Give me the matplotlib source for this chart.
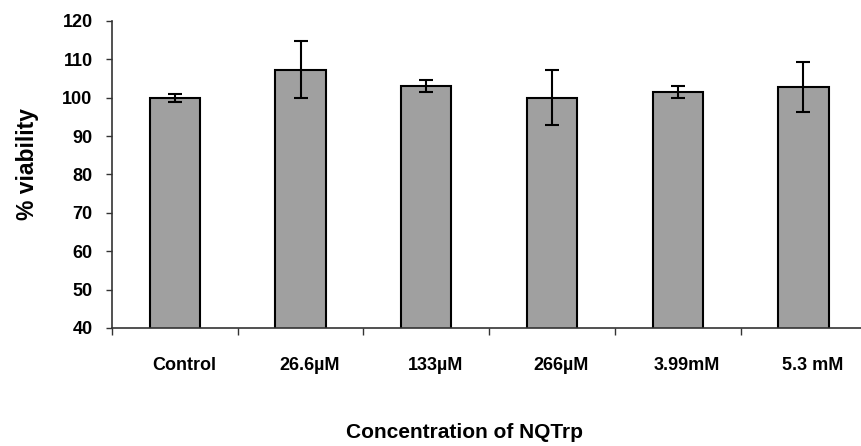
import numpy as np
import matplotlib.pyplot as plt
from matplotlib.transforms import ScaledTranslation

# viability data
labels = ["Control", "26.6\u00b5M", "133\u00b5M", "266\u00b5M", "3.99mM", "5.3 mM"]
viability = [100.0, 107.3, 103.0, 100.0, 101.5, 102.7]
err = [1.0, 7.5, 1.5, 7.2, 1.6, 6.5]

plt.rcParams['font.family'] = ['Liberation Sans', 'DejaVu Sans']
plt.rcParams['font.weight'] = 'bold'

fig = plt.figure(figsize=(8.62, 4.46), dpi=100)
ax = fig.add_axes([0.13, 0.2646, 0.875, 0.6884])

x = np.arange(len(labels))
ax.bar(x, viability, width=0.4, color='#a0a0a0', edgecolor='black', linewidth=1.5,
       yerr=err, capsize=4.7, error_kw=dict(elinewidth=1.5, capthick=1.5, ecolor='black'),
       zorder=2)

ax.set_xlim(-0.5, len(labels) - 0.5)
ax.set_ylim(40, 120)
ax.set_yticks(np.arange(40, 121, 10))
ax.tick_params(axis='y', labelsize=13, length=4, width=1, color='#333333', pad=10)

ax.set_xticks(x)
ax.set_xticklabels(labels, fontsize=13, fontweight='bold')
ax.set_xticks(np.arange(len(labels) + 1) - 0.5, minor=True)
ax.tick_params(axis='x', which='major', length=0, pad=21)
ax.tick_params(axis='x', which='minor', length=5, width=1, color='#333333')

# labels sit a little right of the bar centres in the original
shift = ScaledTranslation(0.09, 0, fig.dpi_scale_trans)
for t in ax.get_xticklabels():
    t.set_transform(t.get_transform() + shift)

for s in ['top', 'right']:
    ax.spines[s].set_visible(False)
for s in ['left', 'bottom']:
    ax.spines[s].set_color('#333333')
    ax.spines[s].set_linewidth(1.2)

ax.set_ylabel("% viability", fontsize=16.5, fontweight='bold', va='center')
ax.yaxis.set_label_coords(-0.112, 0.534)
ax.set_xlabel("Concentration of NQTrp", fontsize=15, fontweight='bold', va='center')
ax.xaxis.set_label_coords(0.467, -0.339)

plt.savefig("out.png", dpi=100, facecolor='white')
